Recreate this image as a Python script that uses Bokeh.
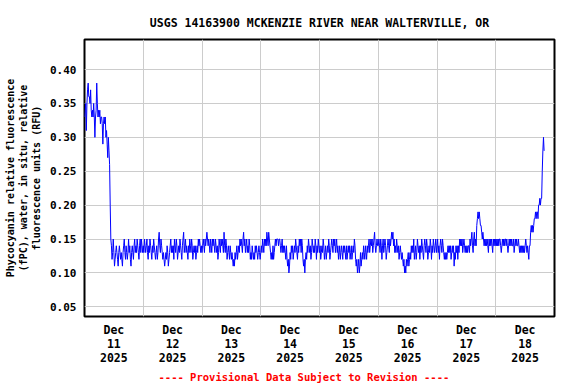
import numpy as np
import pandas as pd
from bokeh.plotting import figure
from bokeh.models import (Range1d, FixedTicker, DatetimeTickFormatter,
                          NumeralTickFormatter, Title, ColumnDataSource)
from bokeh.embed import file_html
from bokeh.resources import INLINE

TITLE = "USGS 14163900 MCKENZIE RIVER NEAR WALTERVILLE, OR"
Y_LABEL = "Phycocyanin relative fluorescence\n(fPC), water, in situ, relative\nfluorescence units (RFU)"
FOOTER = "---- Provisional Data Subject to Revision ----"

START = "2025-12-11 00:00"
STEP = "15min"
tick_days = ["11", "12", "13", "14", "15", "16", "17", "18"]
y_ticks = [0.05, 0.10, 0.15, 0.20, 0.25, 0.30, 0.35, 0.40]

# values in hundredths of RFU, 15-minute readings
dec11 = [33,34,35,31, 35,37,38,36, 36,35,37,34, 33,34,33,35, 33,30,33,34, 38,35,33,34,
         33,34,32,33, 33,32,29,32, 33,32,33,30, 31,29,27,30, 28,26,20,15, 14,12,13,15,
         13,11,12,13, 14,13,12,11, 13,14,13,12, 13,12,11,13, 14,15,13,12, 14,13,12,13,
         15,13,14,12, 11,13,14,13, 12,14,15,13, 14,13,15,14, 13,12,14,15, 13,15,14,13]
dec12 = [14,13,15,14, 13,14,15,13, 12,14,13,15, 14,13,12,14, 13,15,14,13, 12,13,14,12,
         13,15,16,14, 13,15,14,13, 12,13,12,11, 12,13,12,14, 13,11,12,13, 14,15,13,14,
         13,14,12,15, 14,13,15,14, 12,13,14,13, 15,14,13,12, 14,15,16,13, 14,15,13,14,
         13,12,14,13, 15,14,13,15, 14,12,13,14, 13,14,12,13, 14,13,15,14, 15,14,13,14]
dec13 = [13,14,15,14, 13,15,14,15, 16,15,14,15, 14,13,15,14, 13,15,14,15, 14,13,15,14,
         13,14,12,13, 15,14,13,15, 14,15,14,13, 16,14,13,15, 14,12,13,14, 13,12,14,13,
         12,13,12,11, 12,11,13,12, 13,14,12,13, 14,13,15,14, 15,14,13,15, 16,14,15,13,
         14,15,13,14, 13,15,14,12, 13,12,14,13, 12,13,12,14, 13,14,13,12, 13,14,13,12]
dec14 = [13,14,13,15, 14,13,15,14, 15,14,16,15, 14,16,15,14, 13,12,13,12, 14,12,13,14,
         15,14,15,15, 15,14,15,15, 14,13,14,15, 13,14,13,14, 13,12,14,12, 11,12,10,11,
         13,12,14,13, 14,12,13,14, 13,15,14,13, 12,14,13,15, 14,15,13,15, 14,12,11,12,
         10,12,13,12, 14,13,15,14, 13,14,12,13, 15,14,13,14, 13,15,14,12, 14,13,15,14]
dec15 = [13,14,12,13, 14,13,15,14, 12,13,14,12, 13,14,13,15, 14,12,13,14, 15,14,13,15,
         14,15,13,14, 15,13,14,12, 13,14,12,13, 14,13,12,14, 13,14,13,12, 14,12,13,14,
         13,14,12,13, 14,12,13,14, 13,15,14,12, 11,12,10,11, 12,10,11,13, 11,12,13,12,
         14,13,12,14, 13,12,14,13, 14,15,13,14, 15,14,15,13, 14,15,16,14, 13,14,15,14]
dec16 = [14,15,14,13, 15,14,12,14, 15,13,14,15, 14,12,13,14, 15,14,13,15, 14,15,16,15,
         16,14,15,13, 14,13,15,14, 13,14,12,13, 14,13,12,13, 12,11,12,10, 11,10,12,11,
         12,13,11,12, 13,12,14,13, 14,13,15,12, 13,14,12,13, 15,14,13,14, 12,14,13,15,
         14,13,12,14, 15,14,13,15, 14,12,13,14, 13,15,14,12, 14,13,15,14, 13,14,15,13]
dec17 = [14,15,13,14, 12,14,15,14, 13,15,14,13, 12,13,12,13, 12,13,14,13, 14,13,14,12,
         13,14,13,14, 11,13,12,14, 13,14,12,14, 13,15,14,15, 14,15,13,14, 15,14,13,14,
         13,14,13,14, 14,13,15,14, 15,16,14,13, 15,16,14,15, 14,17,18,19, 18,19,18,17,
         17,16,15,16, 15,14,15,14, 15,14,15,14, 13,15,14,15, 14,15,14,13, 15,14,15,14]
dec18 = [15,14,15,14, 15,14,15,15, 14,13,14,15, 14,15,14,15, 15,14,15,14, 13,14,15,14,
         15,14,15,14, 14,15,13,14, 15,14,15,14, 14,15,14,13, 14,13,14,13, 14,13,14,13,
         14,15,14,13, 14,13,12,14, 14,16,17,16, 17,16,17,18, 18,19,18,19, 19,18,20,20,
         21,20,21,21, 25,28,30,28]

values = np.array(dec11 + dec12 + dec13 + dec14 + dec15 + dec16 + dec17 + dec18) / 100.0
times = pd.date_range(START, periods=len(values), freq=STEP)
src = ColumnDataSource(dict(t=times, v=values))

FONT = "DejaVu Sans Mono"

p = figure(width=576, height=384, x_axis_type="datetime",
           output_backend="svg", toolbar_location=None,
           x_range=Range1d(pd.Timestamp("2025-12-11 00:00"), pd.Timestamp("2025-12-19 00:00")),
           y_range=Range1d(0.0357, 0.4443),
           min_border_left=84, min_border_right=22,
           min_border_top=39, min_border_bottom=68,
           title=TITLE)

p.line("t", "v", source=src, line_color="#0000FF", line_width=1)

# title
p.title.text_font = FONT
p.title.text_font_size = "11.5px"
p.title.text_font_style = "bold"
p.title.align = "center"
p.title.text_color = "black"
p.title.standoff = 20

p.background_fill_color = "white"
p.border_fill_color = "white"
p.outline_line_color = "black"
p.outline_line_width = 2

# x axis: labels at noon, grid at midnight
noon_ticks = [pd.Timestamp(f"2025-12-{d} 12:00").value / 1e6 for d in tick_days]
mid_ticks = [pd.Timestamp(f"2025-12-{d} 00:00").value / 1e6 for d in tick_days[1:]]
fmt = "%b\n%d\n%Y"
p.xaxis.ticker = FixedTicker(ticks=noon_ticks)
p.xaxis.formatter = DatetimeTickFormatter(milliseconds=fmt, seconds=fmt, minsec=fmt,
                                          minutes=fmt, hourmin=fmt, hours=fmt,
                                          days=fmt, months=fmt, years=fmt)
p.xgrid.ticker = FixedTicker(ticks=mid_ticks)

p.yaxis.ticker = FixedTicker(ticks=y_ticks)
p.yaxis.formatter = NumeralTickFormatter(format="0.00")

for ax in (p.xaxis[0], p.yaxis[0]):
    ax.axis_line_color = None
    ax.major_tick_line_color = None
    ax.minor_tick_line_color = None
    ax.major_tick_out = 0
    ax.major_tick_in = 0
    ax.major_label_text_font = FONT
    ax.major_label_text_font_style = "bold"
    ax.major_label_text_font_size = "11px"
    ax.major_label_text_color = "black"

p.xaxis.major_label_text_font_size = "11.5px"
p.xaxis.major_label_text_line_height = 1.03
p.xaxis.major_label_standoff = 6
p.yaxis.major_label_standoff = 8

p.yaxis.axis_label = Y_LABEL
p.yaxis.axis_label_text_font = FONT
p.yaxis.axis_label_text_font_style = "bold"
p.yaxis.axis_label_text_font_size = "10px"
p.yaxis.axis_label_text_line_height = 1.2
p.yaxis.axis_label_standoff = 5
p.yaxis.axis_label_text_color = "black"

for g in (p.xgrid[0], p.ygrid[0]):
    g.grid_line_color = "#CCCCCC"
    g.grid_line_width = 1

footer = Title(text=FOOTER, align="left", offset=74, standoff=0,
               text_color="#FF0000", text_font=FONT, text_font_style="bold",
               text_font_size="10.5px")
p.add_layout(footer, "below")

open("out.html", "w").write(file_html(p, INLINE))
